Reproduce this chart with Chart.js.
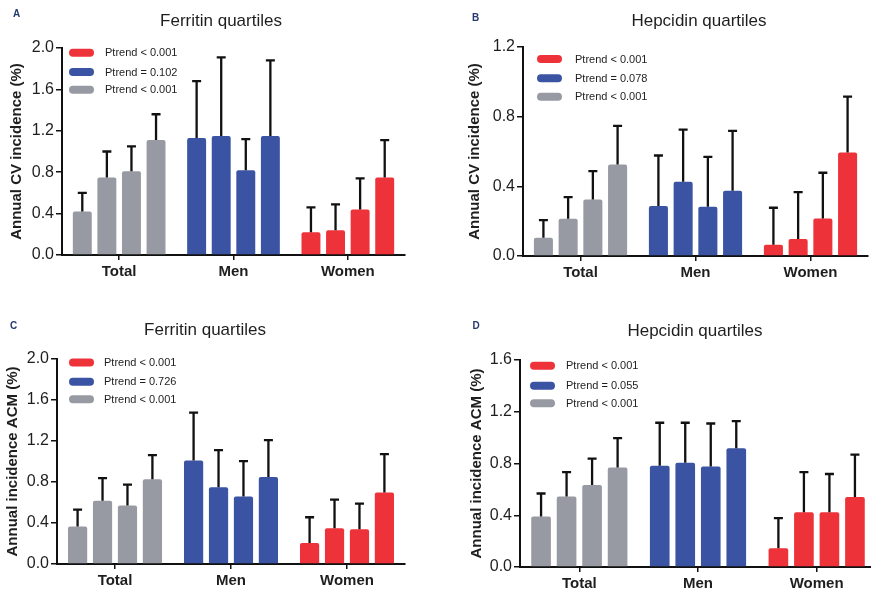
<!DOCTYPE html>
<html><head><meta charset="utf-8">
<script src="https://cdn.jsdelivr.net/npm/chart.js@4.4.1/dist/chart.umd.min.js"></script>
<style>
html,body{margin:0;padding:0;background:#fff;overflow:hidden;width:871px;height:592px;}
.p{position:absolute;}
canvas{display:block;}
</style></head><body>
<div class="p" style="left:0px;top:0px"><canvas id="cA" width="440" height="300" style="width:440px;height:300px"></canvas></div>
<div class="p" style="left:440px;top:0px"><canvas id="cB" width="440" height="300" style="width:440px;height:300px"></canvas></div>
<div class="p" style="left:0px;top:300px"><canvas id="cC" width="440" height="292" style="width:440px;height:292px"></canvas></div>
<div class="p" style="left:440px;top:300px"><canvas id="cD" width="440" height="292" style="width:440px;height:292px"></canvas></div>
<script>
// ---------- data ----------
const CATEGORIES = ['Total', 'Men', 'Women'];
const QUARTILES = ['Q1', 'Q2', 'Q3', 'Q4'];

// Panel A: Ferritin quartiles, annual CV incidence (%)
const A_TOTAL = [0.42, 0.75, 0.81, 1.11];
const A_TOTAL_ERR = [0.60, 1.00, 1.05, 1.36];
const A_MEN = [1.13, 1.15, 0.82, 1.15];
const A_MEN_ERR = [1.68, 1.91, 1.12, 1.88];
const A_WOMEN = [0.22, 0.24, 0.44, 0.75];
const A_WOMEN_ERR = [0.46, 0.49, 0.74, 1.11];
const A_PTREND = ['Ptrend < 0.001', 'Ptrend = 0.102', 'Ptrend < 0.001'];
const A_TICKS = [0, 2.0, 0.4];

// Panel B: Hepcidin quartiles, annual CV incidence (%)
const B_TOTAL = [0.105, 0.214, 0.325, 0.526];
const B_TOTAL_ERR = [0.206, 0.338, 0.487, 0.747];
const B_MEN = [0.287, 0.426, 0.283, 0.375];
const B_MEN_ERR = [0.577, 0.726, 0.569, 0.718];
const B_WOMEN = [0.065, 0.097, 0.216, 0.594];
const B_WOMEN_ERR = [0.277, 0.367, 0.478, 0.915];
const B_PTREND = ['Ptrend < 0.001', 'Ptrend = 0.078', 'Ptrend < 0.001'];
const B_TICKS = [0, 1.2, 0.4];

// Panel C: Ferritin quartiles, annual incidence ACM (%)
const C_TOTAL = [0.365, 0.616, 0.570, 0.827];
const C_TOTAL_ERR = [0.531, 0.837, 0.775, 1.062];
const C_MEN = [1.010, 0.749, 0.658, 0.850];
const C_MEN_ERR = [1.476, 1.111, 1.003, 1.208];
const C_WOMEN = [0.205, 0.349, 0.339, 0.697];
const C_WOMEN_ERR = [0.456, 0.629, 0.590, 1.072];
const C_PTREND = ['Ptrend < 0.001', 'Ptrend = 0.726', 'Ptrend < 0.001'];
const C_TICKS = [0, 2.0, 0.4];

// Panel D: Hepcidin quartiles, annual incidence ACM (%)
const D_TOTAL = [0.390, 0.544, 0.634, 0.770];
const D_TOTAL_ERR = [0.568, 0.734, 0.837, 0.996];
const D_MEN = [0.783, 0.806, 0.776, 0.917];
const D_MEN_ERR = [1.115, 1.115, 1.109, 1.127];
const D_WOMEN = [0.144, 0.424, 0.424, 0.542];
const D_WOMEN_ERR = [0.378, 0.734, 0.719, 0.868];
const D_PTREND = ['Ptrend < 0.001', 'Ptrend = 0.055', 'Ptrend < 0.001'];
const D_TICKS = [0, 1.6, 0.4];

// ---------- styles ----------
const GRAY = '#979aa2', BLUE = '#3a53a3', RED = '#ee3239';
const FONT = "'Liberation Sans', Arial, Helvetica, sans-serif";
const INK = '#1e1e1e';

const errorBarPlugin = {
  id: 'errorBars',
  afterDatasetsDraw(chart) {
    const ctx = chart.ctx, y = chart.scales.y;
    ctx.save();
    ctx.strokeStyle = '#111';
    ctx.lineWidth = 2.3;
    ctx.lineCap = 'butt';
    chart.data.datasets.forEach((ds, i) => {
      const meta = chart.getDatasetMeta(i);
      meta.data.forEach((el, j) => {
        const yTop = y.getPixelForValue(ds.errUpper[j]);
        ctx.beginPath();
        ctx.moveTo(el.x, el.y);
        ctx.lineTo(el.x, yTop);
        ctx.moveTo(el.x - 4.5, yTop);
        ctx.lineTo(el.x + 4.5, yTop);
        ctx.stroke();
      });
    });
    ctx.restore();
  }
};

const decorPlugin = {
  id: 'decor',
  afterDraw(chart, args, o) {
    const ctx = chart.ctx;
    ctx.save();
    // panel letter
    ctx.fillStyle = '#243a70';
    ctx.font = 'bold 10px ' + FONT;
    ctx.textAlign = 'center';
    ctx.textBaseline = 'middle';
    ctx.fillText(o.letter, o.letterX, o.letterY);
    // title
    ctx.fillStyle = INK;
    ctx.font = '17px ' + FONT;
    ctx.fillText(o.title, o.titleX, o.titleY);
    // legend
    const colors = [RED, BLUE, GRAY];
    ctx.font = '11px ' + FONT;
    ctx.textAlign = 'left';
    o.legendText.forEach((t, k) => {
      const cy = o.legendY[k];
      ctx.fillStyle = colors[k];
      const bx = o.legendX, bw = 25, bh = 8, r = 4;
      ctx.beginPath();
      ctx.moveTo(bx + r, cy - bh / 2);
      ctx.lineTo(bx + bw - r, cy - bh / 2);
      ctx.arc(bx + bw - r, cy, r, -Math.PI / 2, Math.PI / 2);
      ctx.lineTo(bx + r, cy + bh / 2);
      ctx.arc(bx + r, cy, r, Math.PI / 2, Math.PI * 1.5);
      ctx.closePath();
      ctx.fill();
      ctx.fillStyle = INK;
      ctx.fillText(t, o.textX, cy + 0.5);
    });
    ctx.restore();
  }
};

function makePanel(id, total, totalErr, men, menErr, women, womenErr, ticks, yTitle, geo, decor) {
  const datasets = QUARTILES.map((q, i) => ({
    label: q,
    data: [total[i], men[i], women[i]],
    errUpper: [totalErr[i], menErr[i], womenErr[i]],
    backgroundColor: [GRAY, BLUE, RED],
    borderRadius: 2,
    borderSkipped: 'start',
    categoryPercentage: 0.86,
    barPercentage: 0.77
  }));
  return new Chart(document.getElementById(id), {
    type: 'bar',
    data: { labels: CATEGORIES, datasets },
    options: {
      responsive: false,
      animation: false,
      devicePixelRatio: 1,
      layout: { padding: { left: 0, top: geo.top, right: geo.right, bottom: 0 } },
      plugins: {
        legend: { display: false },
        tooltip: { enabled: false },
        decor: decor
      },
      scales: {
        x: {
          grid: { display: true, drawOnChartArea: false, drawTicks: true, tickLength: 5, color: '#111', lineWidth: 1.5, offset: false },
          border: { display: true, color: '#111', width: 2 },
          ticks: { color: INK, font: { family: FONT, size: 15, weight: 'bold' }, padding: 3 },
          afterFit: s => { s.height = geo.xH; }
        },
        y: {
          min: ticks[0], max: ticks[1],
          grid: { display: true, drawOnChartArea: false, drawTicks: true, tickLength: 6, color: '#111', lineWidth: 1.5 },
          border: { display: true, color: '#111', width: 2 },
          ticks: { stepSize: ticks[2], color: INK, font: { family: FONT, size: 16 }, padding: 2, callback: v => Number(v).toFixed(1) },
          title: { display: true, text: yTitle, color: INK, font: { family: FONT, size: 15, weight: 'bold' }, padding: { top: geo.titlePad, bottom: 0 } },
          afterFit: s => { s.width = geo.yW; }
        }
      }
    },
    plugins: [errorBarPlugin, decorPlugin]
  });
}

makePanel('cA', A_TOTAL, A_TOTAL_ERR, A_MEN, A_MEN_ERR, A_WOMEN, A_WOMEN_ERR, A_TICKS,
  'Annual CV incidence (%)',
  { yW: 62, top: 48, right: 35, xH: 45, titlePad: 8 },
  { letter: 'A', letterX: 16.7, letterY: 14.5, title: 'Ferritin quartiles', titleX: 221, titleY: 21,
    legendText: A_PTREND, legendX: 69, legendY: [52.8, 72, 89.7], textX: 105 });

makePanel('cB', B_TOTAL, B_TOTAL_ERR, B_MEN, B_MEN_ERR, B_WOMEN, B_WOMEN_ERR, B_TICKS,
  'Annual CV incidence (%)',
  { yW: 83, top: 47, right: 12, xH: 44, titlePad: 26 },
  { letter: 'B', letterX: 35.5, letterY: 18.5, title: 'Hepcidin quartiles', titleX: 259, titleY: 21,
    legendText: B_PTREND, legendX: 97, legendY: [59, 78.3, 96.7], textX: 135 });

makePanel('cC', C_TOTAL, C_TOTAL_ERR, C_MEN, C_MEN_ERR, C_WOMEN, C_WOMEN_ERR, C_TICKS,
  'Annual incidence ACM (%)',
  { yW: 57, top: 59, right: 35, xH: 28, titlePad: 4.3 },
  { letter: 'C', letterX: 13.5, letterY: 26.5, title: 'Ferritin quartiles', titleX: 205, titleY: 30,
    legendText: C_PTREND, legendX: 69, legendY: [62.5, 81.7, 99.3], textX: 104 });

makePanel('cD', D_TOTAL, D_TOTAL_ERR, D_MEN, D_MEN_ERR, D_WOMEN, D_WOMEN_ERR, D_TICKS,
  'Annual incidence ACM (%)',
  { yW: 80, top: 60, right: 4, xH: 25, titlePad: 27.7 },
  { letter: 'D', letterX: 36, letterY: 26, title: 'Hepcidin quartiles', titleX: 255, titleY: 31.5,
    legendText: D_PTREND, legendX: 90, legendY: [65.8, 85.7, 103.3], textX: 126 });
</script>
</body></html>
